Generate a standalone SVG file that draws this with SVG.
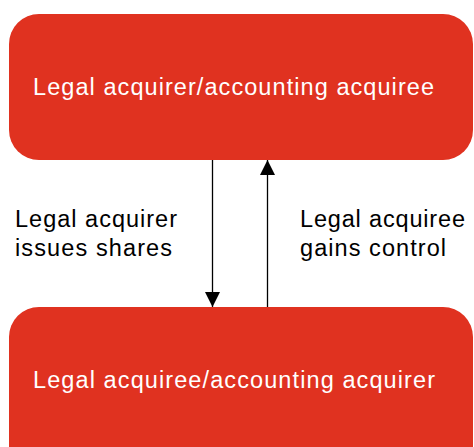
<svg xmlns="http://www.w3.org/2000/svg" width="474" height="447" viewBox="0 0 474 447">
<style>
.box{fill:#E03220;}
.bt{font-family:"Liberation Sans",Arial,sans-serif;font-size:23.5px;fill:#ffffff;}
.lb{font-family:"Liberation Sans",Arial,sans-serif;font-size:23.5px;fill:#000000;}
.cn{stroke:#000000;stroke-width:1.3;fill:none;}
</style>
<defs>
<marker id="ah" viewBox="0 0 10 10" refX="10" refY="5" markerWidth="15" markerHeight="15" markerUnits="userSpaceOnUse" orient="auto">
<path d="M0,0 L10,5 L0,10 Z" fill="#000000"/>
</marker>
</defs>
<rect width="474" height="447" fill="#ffffff"/>
<g id="node-top">
<rect class="box" x="9" y="14" width="464" height="146" rx="30" ry="30"/>
<text class="bt" x="33" y="94.5" textLength="401" lengthAdjust="spacing">Legal acquirer/accounting acquiree</text>
</g>
<g id="node-bottom">
<rect class="box" x="9" y="307" width="464" height="170" rx="30" ry="30"/>
<text class="bt" x="33" y="388" textLength="402" lengthAdjust="spacing">Legal acquiree/accounting acquirer</text>
</g>
<g id="connectors">
<line class="cn" x1="212.5" y1="160" x2="212.5" y2="307" marker-end="url(#ah)"/>
<line class="cn" x1="267.5" y1="307" x2="267.5" y2="160" marker-end="url(#ah)"/>
</g>
<g id="label-left">
<text class="lb" x="15" y="227" textLength="162" lengthAdjust="spacing">Legal acquirer</text>
<text class="lb" x="15" y="255.5" textLength="157" lengthAdjust="spacing">issues shares</text>
</g>
<g id="label-right">
<text class="lb" x="300" y="227" textLength="165" lengthAdjust="spacing">Legal acquiree</text>
<text class="lb" x="300" y="255.5" textLength="146" lengthAdjust="spacing">gains control</text>
</g>
</svg>
